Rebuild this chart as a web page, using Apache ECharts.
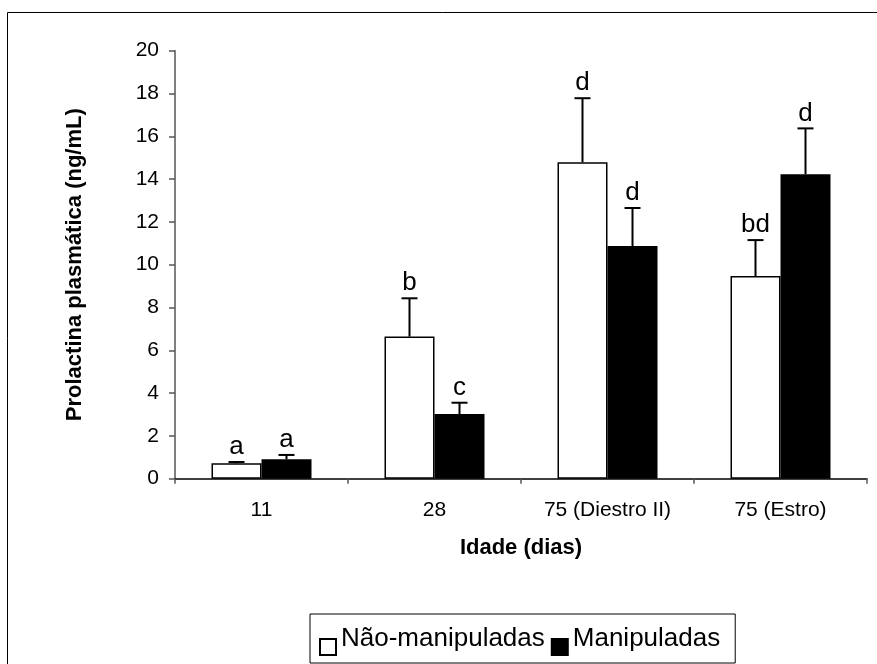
<!DOCTYPE html>
<html>
<head>
<meta charset="utf-8">
<script src="https://cdn.jsdelivr.net/npm/echarts@6/dist/echarts.min.js"></script>
<style>
  html, body { margin: 0; padding: 0; background: #fff; }
  #chart { width: 877px; height: 664px; }
</style>
</head>
<body>
<div id="chart"></div>
<script>
// Plasma prolactin by age, non-handled vs handled animals (mean + SEM)
const categories = ['11', '28', '75 (Diestro II)', '75 (Estro)'];
const naoManipuladas = [0.72, 6.64, 14.79, 9.47];
const naoManipuladasErr = [0.06, 1.79, 2.99, 1.68];
const manipuladas = [0.91, 3.02, 10.87, 14.23];
const manipuladasErr = [0.20, 0.53, 1.78, 2.14];
const letrasNao = ['a', 'b', 'd', 'bd'];
const letrasManip = ['a', 'c', 'd', 'd'];
const yTicks = { min: 0, max: 20, interval: 2 };

const FONT = 'Arial, "Liberation Sans", sans-serif';
const BAR_W = 50;

function errorData(means, errs) {
  return means.map((m, i) => [i, m, errs[i]]);
}

// Upward error bar with cap, plus the significance letter above it
function errorRenderer(offset, letters) {
  return function (params, api) {
    const idx = api.value(0);
    const mean = api.value(1);
    const err = api.value(2);
    const letter = letters[params.dataIndex];
    const x = api.coord([idx, 0])[0] + offset;
    const yBase = api.coord([idx, mean])[1];
    const yTop = api.coord([idx, mean + err])[1];
    const capHalf = 8;
    return {
      type: 'group',
      children: [
        { type: 'line', shape: { x1: x, y1: yBase, x2: x, y2: yTop },
          style: { stroke: '#000', lineWidth: 2 } },
        { type: 'line', shape: { x1: x - capHalf, y1: yTop, x2: x + capHalf, y2: yTop },
          style: { stroke: '#000', lineWidth: 2 } },
        { type: 'text', x: x, y: yTop - 2,
          style: { text: letter, fill: '#000', font: '26px ' + FONT,
                   align: 'center', verticalAlign: 'bottom' } }
      ]
    };
  };
}

const chart = echarts.init(document.getElementById('chart'), null, { renderer: 'canvas' });

const legendIcon = 'path://M0,0M0,17L16,17L16,33L0,33Z';

chart.setOption({
  animation: false,
  backgroundColor: '#fff',
  textStyle: { fontFamily: FONT, color: '#000' },
  graphic: [{
    type: 'rect', left: 5, top: 10, silent: true,
    shape: { width: 900, height: 700 },
    style: { fill: 'none', stroke: '#000', lineWidth: 1 }
  }],
  grid: { left: 175, right: 10, top: 50.7, bottom: 185.3, containLabel: false },
  legend: {
    left: 310, top: 614,
    padding: [7, 15, 7, 9],
    borderColor: '#000', borderWidth: 1,
    itemWidth: 16, itemHeight: 34, itemGap: 6,
    textStyle: { fontSize: 26, fontFamily: FONT, color: '#000' },
    data: [
      { name: 'Não-manipuladas', icon: legendIcon },
      { name: 'Manipuladas', icon: legendIcon }
    ]
  },
  xAxis: {
    type: 'category',
    data: categories,
    boundaryGap: true,
    axisLine: { lineStyle: { color: '#000', width: 1.5 } },
    axisTick: { show: true, length: 5, inside: false, alignWithLabel: false,
                lineStyle: { color: '#555', width: 1.5 } },
    axisLabel: { fontSize: 21, color: '#000', margin: 21, fontFamily: FONT },
    name: 'Idade (dias)',
    nameLocation: 'middle',
    nameGap: 58,
    nameTextStyle: { fontSize: 22, fontWeight: 'bold', color: '#000', fontFamily: FONT }
  },
  yAxis: {
    type: 'value',
    min: yTicks.min, max: yTicks.max, interval: yTicks.interval,
    splitLine: { show: false },
    axisLine: { show: true, lineStyle: { color: '#555', width: 1.5 } },
    axisTick: { show: true, length: 6, lineStyle: { color: '#555', width: 1.5 } },
    axisLabel: { fontSize: 21, color: '#000', margin: 16, fontFamily: FONT },
    name: 'Prolactina plasmática (ng/mL)',
    nameLocation: 'middle',
    nameGap: 89,
    nameRotate: 90,
    nameTextStyle: { fontSize: 22, fontWeight: 'bold', color: '#000', fontFamily: FONT }
  },
  series: [
    {
      name: 'Não-manipuladas', type: 'bar', data: naoManipuladas,
      barWidth: BAR_W, barGap: '0%',
      itemStyle: { color: '#fff', borderColor: '#000', borderWidth: 1.5 },
      z: 2
    },
    {
      name: 'Manipuladas', type: 'bar', data: manipuladas,
      barWidth: BAR_W, barGap: '0%',
      itemStyle: { color: '#000', borderColor: '#000', borderWidth: 1.5 },
      z: 2
    },
    {
      type: 'custom', name: 'Não-manipuladas erro',
      renderItem: errorRenderer(-BAR_W / 2, letrasNao),
      data: errorData(naoManipuladas, naoManipuladasErr),
      z: 5, silent: true
    },
    {
      type: 'custom', name: 'Manipuladas erro',
      renderItem: errorRenderer(BAR_W / 2, letrasManip),
      data: errorData(manipuladas, manipuladasErr),
      z: 5, silent: true
    }
  ]
});
</script>
</body>
</html>
